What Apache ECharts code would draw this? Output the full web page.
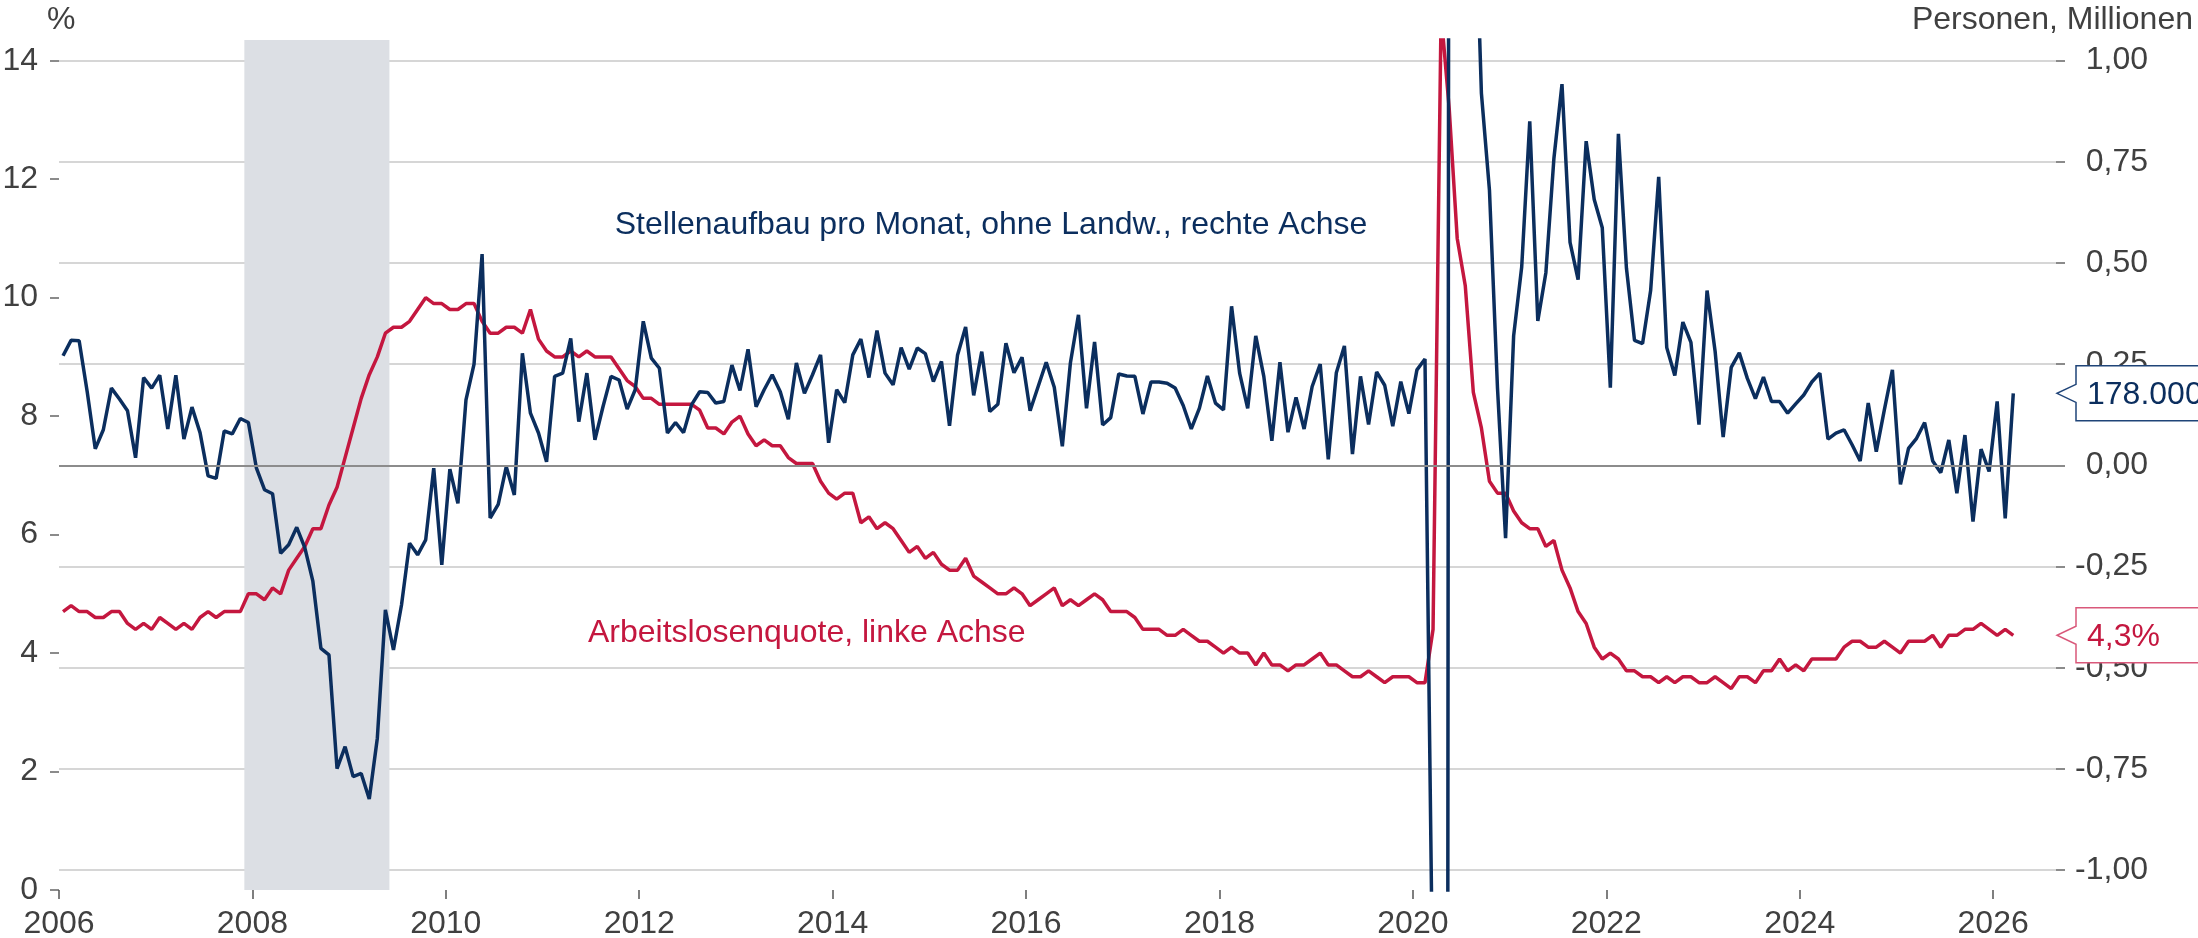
<!DOCTYPE html>
<html lang="de">
<head>
    <meta charset="utf-8">
    <title>USA: Arbeitslosenquote und Stellenaufbau</title>
    <script src="https://cdn.jsdelivr.net/npm/echarts@6/dist/echarts.min.js"></script>
    <style>html, body { margin: 0; padding: 0; background: #fff; }</style>
</head>
<body>
<div id="main" style="width: 2198px; height: 938px;"></div>
<script type="text/javascript">
    // Monatswerte ab Januar 2006 bis Maerz 2026
    var startYear = 2006;

    // Arbeitslosenquote in % (linke Achse)
    var arbeitslosenquote = [
        4.7, 4.8, 4.7, 4.7, 4.6, 4.6, 4.7, 4.7, 4.5, 4.4, 4.5, 4.4,   // 2006
        4.6, 4.5, 4.4, 4.5, 4.4, 4.6, 4.7, 4.6, 4.7, 4.7, 4.7, 5.0,   // 2007
        5.0, 4.9, 5.1, 5.0, 5.4, 5.6, 5.8, 6.1, 6.1, 6.5, 6.8, 7.3,   // 2008
        7.8, 8.3, 8.7, 9.0, 9.4, 9.5, 9.5, 9.6, 9.8, 10.0, 9.9, 9.9,  // 2009
        9.8, 9.8, 9.9, 9.9, 9.6, 9.4, 9.4, 9.5, 9.5, 9.4, 9.8, 9.3,   // 2010
        9.1, 9.0, 9.0, 9.1, 9.0, 9.1, 9.0, 9.0, 9.0, 8.8, 8.6, 8.5,   // 2011
        8.3, 8.3, 8.2, 8.2, 8.2, 8.2, 8.2, 8.1, 7.8, 7.8, 7.7, 7.9,   // 2012
        8.0, 7.7, 7.5, 7.6, 7.5, 7.5, 7.3, 7.2, 7.2, 7.2, 6.9, 6.7,   // 2013
        6.6, 6.7, 6.7, 6.2, 6.3, 6.1, 6.2, 6.1, 5.9, 5.7, 5.8, 5.6,   // 2014
        5.7, 5.5, 5.4, 5.4, 5.6, 5.3, 5.2, 5.1, 5.0, 5.0, 5.1, 5.0,   // 2015
        4.8, 4.9, 5.0, 5.1, 4.8, 4.9, 4.8, 4.9, 5.0, 4.9, 4.7, 4.7,   // 2016
        4.7, 4.6, 4.4, 4.4, 4.4, 4.3, 4.3, 4.4, 4.3, 4.2, 4.2, 4.1,   // 2017
        4.0, 4.1, 4.0, 4.0, 3.8, 4.0, 3.8, 3.8, 3.7, 3.8, 3.8, 3.9,   // 2018
        4.0, 3.8, 3.8, 3.7, 3.6, 3.6, 3.7, 3.6, 3.5, 3.6, 3.6, 3.6,   // 2019
        3.5, 3.5, 4.4, 14.8, 13.2, 11.0, 10.2, 8.4, 7.8, 6.9, 6.7, 6.7, // 2020
        6.4, 6.2, 6.1, 6.1, 5.8, 5.9, 5.4, 5.1, 4.7, 4.5, 4.1, 3.9,   // 2021
        4.0, 3.9, 3.7, 3.7, 3.6, 3.6, 3.5, 3.6, 3.5, 3.6, 3.6, 3.5,   // 2022
        3.5, 3.6, 3.5, 3.4, 3.6, 3.6, 3.5, 3.7, 3.7, 3.9, 3.7, 3.8,   // 2023
        3.7, 3.9, 3.9, 3.9, 3.9, 4.1, 4.2, 4.2, 4.1, 4.1, 4.2, 4.1,   // 2024
        4.0, 4.2, 4.2, 4.2, 4.3, 4.1, 4.3, 4.3, 4.4, 4.4, 4.5, 4.4,   // 2025
        4.3, 4.4, 4.3                                                 // 2026
    ];

    // Stellenaufbau pro Monat, ohne Landwirtschaft, Mio. Personen (rechte Achse)
    var stellenaufbau = [
        0.271, 0.309, 0.308, 0.182, 0.041, 0.088, 0.191, 0.164, 0.135, 0.019, 0.217, 0.191,        // 2006
        0.223, 0.090, 0.223, 0.065, 0.144, 0.081, -0.026, -0.032, 0.085, 0.078, 0.116, 0.106,      // 2007
        -0.007, -0.060, -0.070, -0.217, -0.196, -0.153, -0.203, -0.286, -0.452, -0.468, -0.749, -0.695, // 2008
        -0.769, -0.761, -0.824, -0.674, -0.357, -0.456, -0.345, -0.192, -0.221, -0.184, -0.007, -0.246, // 2009
        -0.009, -0.094, 0.162, 0.250, 0.522, -0.130, -0.096, -0.003, -0.073, 0.277, 0.129, 0.080,   // 2010
        0.009, 0.220, 0.228, 0.314, 0.108, 0.228, 0.063, 0.145, 0.220, 0.211, 0.139, 0.187,        // 2011
        0.356, 0.265, 0.240, 0.080, 0.106, 0.081, 0.150, 0.182, 0.180, 0.154, 0.158, 0.248,        // 2012
        0.185, 0.287, 0.145, 0.187, 0.224, 0.182, 0.114, 0.253, 0.178, 0.224, 0.273, 0.056,        // 2013
        0.187, 0.155, 0.273, 0.312, 0.217, 0.333, 0.228, 0.199, 0.291, 0.238, 0.290, 0.276,        // 2014
        0.207, 0.257, 0.098, 0.273, 0.342, 0.173, 0.281, 0.133, 0.151, 0.302, 0.229, 0.267,        // 2015
        0.135, 0.195, 0.255, 0.193, 0.047, 0.253, 0.372, 0.141, 0.305, 0.100, 0.118, 0.226,        // 2016
        0.221, 0.220, 0.127, 0.206, 0.206, 0.203, 0.191, 0.148, 0.090, 0.141, 0.221, 0.154,        // 2017
        0.137, 0.393, 0.228, 0.141, 0.320, 0.220, 0.061, 0.255, 0.082, 0.168, 0.090, 0.195,        // 2018
        0.250, 0.015, 0.229, 0.295, 0.028, 0.220, 0.101, 0.231, 0.198, 0.097, 0.207, 0.128,        // 2019
        0.236, 0.263, -1.37, -20.5, 2.8, 4.8, 1.7, 1.55, 0.92, 0.68, 0.19, -0.18,                   // 2020
        0.32, 0.49, 0.85, 0.357, 0.476, 0.759, 0.942, 0.551, 0.459, 0.801, 0.657, 0.587,           // 2021
        0.192, 0.819, 0.487, 0.309, 0.301, 0.432, 0.713, 0.291, 0.222, 0.354, 0.304, 0.101,       // 2022
        0.432, 0.282, 0.070, 0.242, 0.278, 0.215, 0.165, 0.218, 0.158, 0.158, 0.129, 0.152,       // 2023
        0.174, 0.206, 0.228, 0.065, 0.080, 0.088, 0.051, 0.011, 0.154, 0.034, 0.137, 0.236,       // 2024
        -0.047, 0.042, 0.067, 0.106, 0.011, -0.018, 0.063, -0.069, 0.075, -0.139, 0.040, -0.015,  // 2025
        0.158, -0.131, 0.178                                                                        // 2026
    ];

    // Rezession (NBER): Dez 2007 bis Jun 2009, in Jahren
    var rezession = [2007 + 11 / 12, 2009 + 5 / 12];

    var jahrTicks = [2006, 2008, 2010, 2012, 2014, 2016, 2018, 2020, 2022, 2024, 2026];
    var linkeTicks = [0, 2, 4, 6, 8, 10, 12, 14];
    var rechteTicks = [-1, -0.75, -0.5, -0.25, 0, 0.25, 0.5, 0.75, 1];

    var blau = '#0b2e5e';
    var rot = '#c4173f';
    var grau = '#404040';
    var schrift = '"Liberation Sans", Arial, sans-serif';
    var groesse = 32;

    function punkte(werte) {
        return werte.map(function (v, i) {
            return [startYear + (i + 0.5) / 12, v];
        });
    }

    function zahlDe(v, stellen) {
        return v.toFixed(stellen).replace('.', ',');
    }

    var myChart = echarts.init(document.getElementById('main'));

    var option = {
        animation: false,
        backgroundColor: '#fff',
        grid: {
            left: 59,
            right: 142,
            top: 40,
            bottom: 48,
            containLabel: false,
            outerBoundsMode: 'none'
        },
        xAxis: {
            type: 'value',
            min: 2006,
            max: 2026.65,
            axisLine: { show: false },
            axisTick: {
                show: true,
                length: 9,
                customValues: jahrTicks,
                lineStyle: { color: '#555', width: 1.5 }
            },
            axisLabel: {
                customValues: jahrTicks,
                fontSize: groesse,
                fontFamily: schrift,
                color: grau,
                margin: 24,
                lineHeight: 20,
                align: 'center',
                formatter: function (v) { return String(Math.round(v)); }
            },
            splitLine: { show: false }
        },
        yAxis: [{
            type: 'value',
            position: 'left',
            min: 0,
            max: 14.35,
            axisLine: { show: false },
            axisTick: {
                show: true,
                length: 9,
                customValues: linkeTicks,
                lineStyle: { color: '#666', width: 1.5 }
            },
            axisLabel: {
                customValues: linkeTicks,
                fontSize: groesse,
                fontFamily: schrift,
                color: grau,
                margin: 21,
                lineHeight: 20,
                padding: [4, 0, 0, 0]
            },
            splitLine: { show: false }
        }, {
            type: 'value',
            position: 'right',
            min: -1.049,
            max: 1.051,
            axisLine: { show: false },
            axisTick: {
                show: true,
                length: 9,
                customValues: rechteTicks,
                lineStyle: { color: '#666', width: 1.5 }
            },
            axisLabel: {
                customValues: rechteTicks,
                fontSize: groesse,
                fontFamily: schrift,
                color: grau,
                align: 'right',
                margin: 92,
                padding: [4, 0, 0, 0],
                formatter: function (v) { return zahlDe(v, 2); }
            },
            splitLine: {
                show: true,
                lineStyle: { color: '#d6d6d6', width: 2 }
            }
        }],
        series: [{
            // Hilfsserie: Rezessionsband und Nulllinie
            type: 'line',
            yAxisIndex: 1,
            data: [],
            z: 1,
            silent: true,
            markArea: {
                silent: true,
                itemStyle: { color: '#dcdfe4', opacity: 1 },
                data: [[{ xAxis: rezession[0] }, { xAxis: rezession[1] }]]
            },
            markLine: {
                silent: true,
                symbol: 'none',
                label: { show: false },
                lineStyle: { color: '#8c8c8c', width: 2, type: 'solid' },
                data: [{ yAxis: 0 }]
            }
        }, {
            name: 'Arbeitslosenquote',
            type: 'line',
            yAxisIndex: 0,
            data: punkte(arbeitslosenquote),
            showSymbol: false,
            z: 3,
            lineStyle: { color: rot, width: 3.5 },
            itemStyle: { color: rot }
        }, {
            name: 'Stellenaufbau',
            type: 'line',
            yAxisIndex: 1,
            data: punkte(stellenaufbau),
            showSymbol: false,
            z: 4,
            lineStyle: { color: blau, width: 3.5 },
            itemStyle: { color: blau }
        }]
    };
    myChart.setOption(option);

    // Beschriftungen und Wertekaesten am rechten Rand
    var gridRechts = myChart.convertToPixel({ xAxisIndex: 0 }, 2026.65);
    var letzteBlau = stellenaufbau[stellenaufbau.length - 1];
    var letzteRot = arbeitslosenquote[arbeitslosenquote.length - 1];
    var yBlau = myChart.convertToPixel({ yAxisIndex: 1 }, letzteBlau);
    var yRot = myChart.convertToPixel({ yAxisIndex: 0 }, letzteRot);

    function kasten(y, text, farbe, rand) {
        var bx = gridRechts + 20, h = 55, oben = y - h / 2;
        return [{
            type: 'polygon',
            z: 10,
            shape: {
                points: [[bx, oben], [2215, oben], [2215, oben + h], [bx, oben + h],
                         [bx, y + 9], [gridRechts + 1, y], [bx, y - 9]]
            },
            style: { fill: '#fff', stroke: rand, lineWidth: 1.5 }
        }, {
            type: 'text',
            z: 11,
            x: bx + 11,
            y: y + 2,
            style: {
                text: text, fill: farbe, font: groesse + 'px ' + schrift,
                align: 'left', verticalAlign: 'middle'
            }
        }];
    }

    function beschriftung(x, y, text, farbe, ausrichtung) {
        return {
            type: 'text',
            z: 12,
            x: x,
            y: y,
            style: {
                text: text, fill: farbe, font: groesse + 'px ' + schrift,
                align: ausrichtung, verticalAlign: 'middle'
            }
        };
    }

    var tausend = Math.round(letzteBlau * 1000000).toString().replace(/\B(?=(\d{3})+(?!\d))/g, '.');

    myChart.setOption({
        graphic: [
            beschriftung(47, 20, '%', grau, 'left'),
            beschriftung(2193, 20, 'Personen, Millionen', grau, 'right'),
            beschriftung(991, 225, 'Stellenaufbau pro Monat, ohne Landw., rechte Achse', blau, 'center'),
            beschriftung(588, 633, 'Arbeitslosenquote, linke Achse', rot, 'left')
        ].concat(kasten(yBlau, tausend, blau, '#1f4478'))
         .concat(kasten(yRot, zahlDe(letzteRot, 1) + '%', rot, '#d9587a'))
    });
</script>
</body>
</html>
